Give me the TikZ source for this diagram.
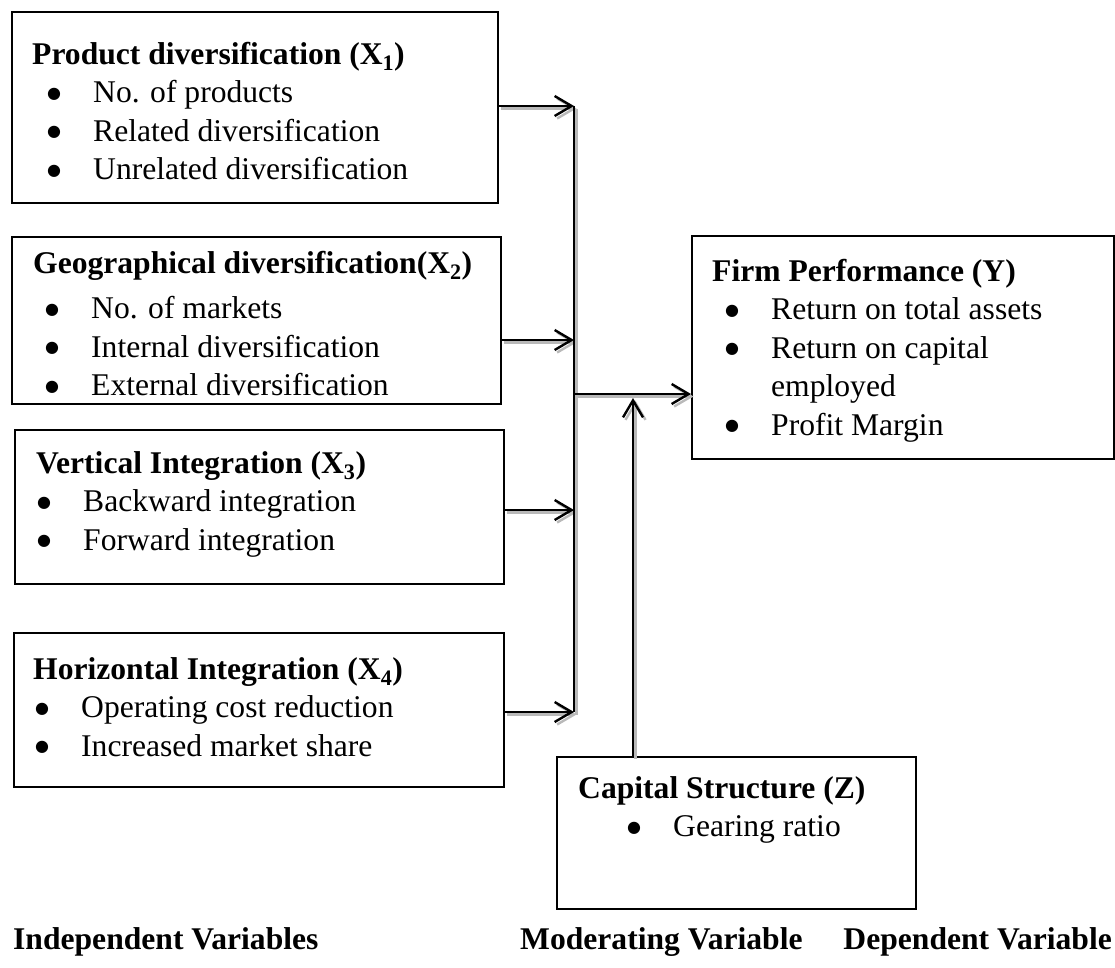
\documentclass[tikz,border=0pt]{standalone}
\usepackage{fontspec}
\setmainfont{Liberation Serif}
\newfontfamily\symfont{DejaVu Sans}
\usetikzlibrary{arrows.meta}
\usetikzlibrary{positioning}

\newcommand{\dotmark}{\raisebox{4.5pt}{\symfont\fontsize{16}{16}\selectfont ●}}
\newcommand{\itm}[2][15pt]{\hspace*{#1}\makebox[46pt][l]{\dotmark}#2}

\begin{document}
\begin{tikzpicture}[x=1pt, y=-1pt,
    box/.style={draw, line width=1.8, anchor=north west, inner sep=0},
    txt/.style={anchor=north west, align=left, inner sep=0, font=\fontsize{31.6}{38.5}\selectfont},
    lbl/.style={inner sep=0, font=\bfseries\fontsize{31.6}{38.5}\selectfont},
    link/.style={line width=2.4, -{Straight Barb[length=17,width=20]}},
    bus/.style={line width=2.4},
    ghost/.style={draw=gray!55, transform canvas={shift={(2.5,2.5)}}}]
    \useasboundingbox (0,0) rectangle (1115,967);

    % boxes
    \node[box, minimum width=486, minimum height=191] (x1) at (11,11) {};
    \node[box, minimum width=489, minimum height=167] (x2) at (11,236) {};
    \node[box, minimum width=489, minimum height=154] (x3) at (14,429) {};
    \node[box, minimum width=490, minimum height=154] (x4) at (13,632) {};
    \node[box, minimum width=422, minimum height=223] (fy) at (691,235) {};
    \node[box, minimum width=359, minimum height=152] (cs) at (556,756) {};

    % texts
    \node[txt] (t1) at (32,42) {\textbf{Product diversification (X\textsubscript{1})}\\
        \itm{No. of products}\\ \itm{Related diversification}\\ \itm{Unrelated diversification}};
    \node[txt] (t2) at (33,251) {\textbf{Geographical diversification(X\textsubscript{2})}\\[7pt]
        \itm[12pt]{No. of markets}\\ \itm[12pt]{Internal diversification}\\ \itm[12pt]{External diversification}};
    \node[txt] (t3) at (36,451) {\textbf{Vertical Integration (X\textsubscript{3})}\\
        \itm[1pt]{Backward integration}\\ \itm[1pt]{Forward integration}};
    \node[txt] (t4) at (33,657) {\textbf{Horizontal Integration (X\textsubscript{4})}\\
        \itm[2pt]{Operating cost reduction}\\ \itm[2pt]{Increased market share}};
    \node[txt] (ty) at (712,259) {\textbf{Firm Performance (Y)}\\
        \itm[13pt]{Return on total assets}\\ \itm[13pt]{Return on capital}\\
        \hspace*{59pt}employed\\ \itm[13pt]{Profit Margin}};
    \node[txt] (tz) at (578,776) {\textbf{Capital Structure (Z)}\\ \itm[49pt]{Gearing ratio}};

    \node[lbl, anchor=base west] (iv) at (13,949) {Independent Variables};
    \node[lbl, anchor=base west] (mv) at (520,949) {Moderating Variable};
    \node[lbl, anchor=base east] (dv) at (1112,949) {Dependent Variable};

    % joints on the bus
    \coordinate (j1) at (574,106);
    \coordinate (j2) at (574,340);
    \coordinate (j3) at (574,510);
    \coordinate (j4) at (574,712);
    \coordinate (jy) at (574,394);
    \coordinate (jz) at (633,398);

    % shadows
    \draw[bus, ghost] (j1) -- (j4);
    \draw[link, ghost] (x1.east |- j1) -- (j1);
    \draw[link, ghost] (x2.east |- j2) -- (j2);
    \draw[link, ghost] (x3.east |- j3) -- (j3);
    \draw[link, ghost] (x4.east |- j4) -- (j4);
    \draw[link, ghost] (jy) -- (jy -| fy.west);
    \draw[link, ghost] (cs.north -| jz) -- (jz);

    % arrows
    \draw[bus] (j1) -- (j4);
    \draw[link] (x1.east |- j1) -- (j1);
    \draw[link] (x2.east |- j2) -- (j2);
    \draw[link] (x3.east |- j3) -- (j3);
    \draw[link] (x4.east |- j4) -- (j4);
    \draw[link] (jy) -- (jy -| fy.west);
    \draw[link] (cs.north -| jz) -- (jz);
\end{tikzpicture}
\end{document}
